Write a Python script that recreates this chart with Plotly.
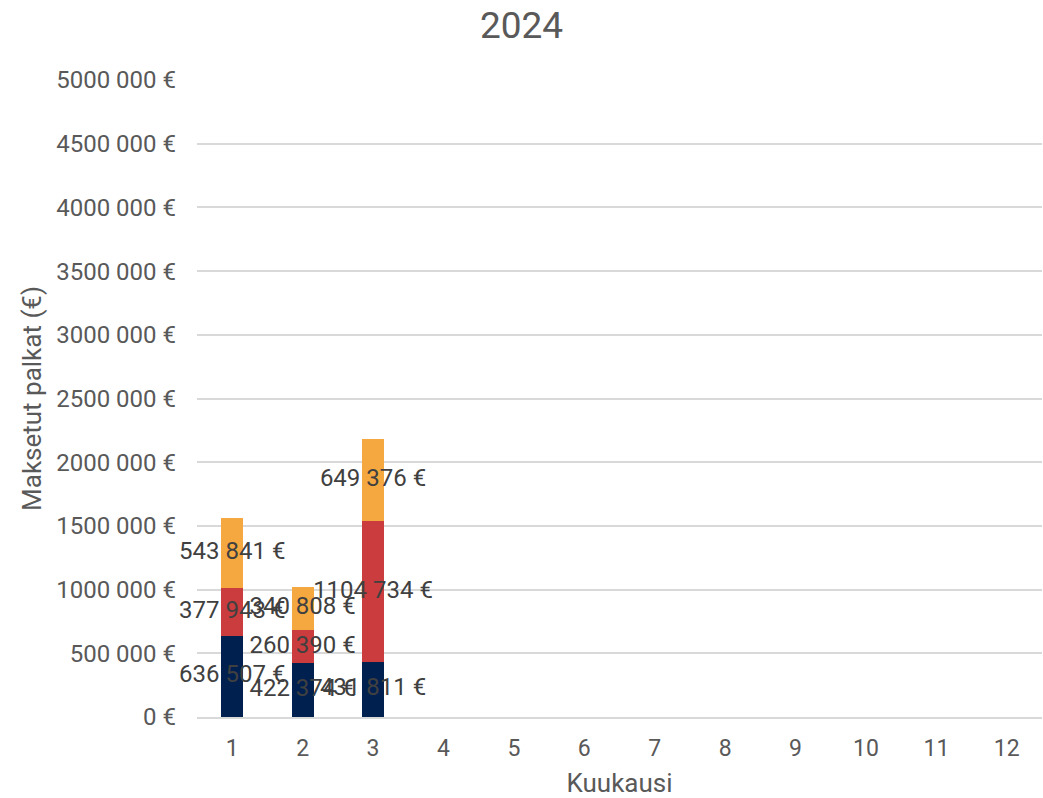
import plotly.graph_objects as go

months = [str(m) for m in range(1, 13)]
data_months = ["1", "2", "3"]
series_bottom = [636507, 422374, 431811]
series_middle = [377943, 260390, 1104734]
series_top = [543841, 340808, 649376]
series_colors = ["#002050", "#CB3C3E", "#F5A840"]
tick_vals = [0, 500000, 1000000, 1500000, 2000000, 2500000, 3000000, 3500000, 4000000, 4500000, 5000000]
tick_text = ["0 €", "500 000 €", "1000 000 €", "1500 000 €", "2000 000 €", "2500 000 €",
             "3000 000 €", "3500 000 €", "4000 000 €", "4500 000 €", "5000 000 €"]

def fmt(v):
    if v >= 1000:
        return f"{v // 1000} {v % 1000:03d} €"
    return f"{v} €"

fig = go.Figure()
series = [series_bottom, series_middle, series_top]
base = [0] * len(data_months)
for vals, col in zip(series, series_colors):
    fig.add_trace(go.Bar(x=data_months, y=vals, marker_color=col, marker_line_width=0,
                         width=0.31, showlegend=False, hoverinfo="skip"))
for vals in series:
    mids = [b + v / 2 for b, v in zip(base, vals)]
    fig.add_trace(go.Scatter(x=data_months, y=mids, mode="text", text=[fmt(v) for v in vals],
                             textfont=dict(family="Roboto", size=24, color="#404040"),
                             textposition="middle center", showlegend=False, hoverinfo="skip",
                             cliponaxis=False))
    base = [b + v for b, v in zip(base, vals)]

fig.update_layout(
    barmode="stack",
    width=1043, height=798,
    margin=dict(l=197, r=1, t=80, b=81),
    paper_bgcolor="white", plot_bgcolor="white",
    font=dict(family="Roboto", color="#595959", size=20),
    title=dict(text="2024", x=0.5, xanchor="center", y=0.969, yanchor="middle",
               font=dict(size=37, color="#595959")),
    xaxis=dict(type="category", categoryorder="array", categoryarray=months, range=[-0.5, 11.5],
               tickfont=dict(size=23), showgrid=False, showline=True, linecolor="#D9D9D9",
               linewidth=1.5, automargin=False, ticklabelstandoff=10,
               title=dict(text="Kuukausi", font=dict(size=26), standoff=16), ticks=""),
    yaxis=dict(range=[0, 5000000], tickvals=tick_vals, ticktext=tick_text, tickfont=dict(size=24),
               showgrid=True, gridcolor="#D9D9D9", gridwidth=1.5, zeroline=False, ticks="",
               automargin=False, ticklabelstandoff=20,
               title=dict(text="Maksetut palkat (€)", font=dict(size=26), standoff=7)),
)
fig.write_html("out.html", config={"displayModeBar": False},
               post_script="document.body.style.margin='0px';")
